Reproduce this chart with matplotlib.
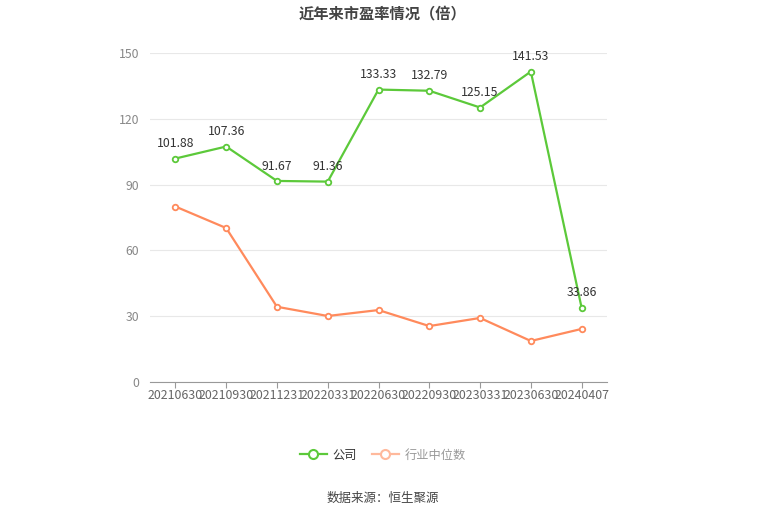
import matplotlib
matplotlib.use("Agg")
import matplotlib.pyplot as plt
from matplotlib.lines import Line2D

plt.rcParams['font.family'] = ['Noto Sans CJK SC', 'DejaVu Sans']

categories = ["20210630", "20210930", "20211231", "20220331", "20220630",
              "20220930", "20230331", "20230630", "20240407"]
company = [101.88, 107.36, 91.67, 91.36, 133.33, 132.79, 125.15, 141.53, 33.86]
industry = [80.0, 70.2, 34.3, 30.1, 32.8, 25.5, 29.2, 18.7, 24.2]
yticks = [0, 30, 60, 90, 120, 150]

green = "#5cc93a"
orange = "#ff8a5c"

fig = plt.figure(figsize=(7.65, 5.17), dpi=100)
ax = fig.add_axes([150/765, 1-382/517, 457/765, 329/517])

x = list(range(len(categories)))
ax.plot(x, company, color=green, lw=1.6, marker='o', ms=4, mfc='white', mec=green, mew=1.3, zorder=3)
ax.plot(x, industry, color=orange, lw=1.6, marker='o', ms=4, mfc='white', mec=orange, mew=1.3, zorder=3)

for xi, v in zip(x, company):
    ax.annotate(f"{v:.2f}", (xi, v), xytext=(0, 6), textcoords='offset points',
                ha='center', va='bottom', fontsize=8.8, color='#333333')

ax.set_xlim(-0.5, len(categories) - 0.5)
ax.set_ylim(0, 150)
ax.set_yticks(yticks)
ax.set_yticklabels([str(t) for t in yticks], fontsize=8.8, color='#888888')
ax.set_xticks(x)
ax.set_xticklabels(categories, fontsize=8.9, color='#666666')
ax.tick_params(axis='y', length=0, pad=8)
ax.tick_params(axis='x', length=4, color='#999999', pad=1)
ax.grid(axis='y', color='#e8e8e8', lw=0.8)
ax.set_axisbelow(True)
for s in ['top', 'right', 'left']:
    ax.spines[s].set_visible(False)
ax.spines['bottom'].set_color('#999999')

fig.text(0.5, 1-13/517, "近年来市盈率情况（倍）", ha='center', va='center',
         fontsize=11, fontweight='bold', color='#444444')

handles = [
    Line2D([0], [0], color=green, lw=1.6, marker='o', ms=6.5, mfc='white', mec=green, mew=1.5),
    Line2D([0], [0], color='#ffb99c', lw=1.6, marker='o', ms=6.5, mfc='white', mec='#ffb99c', mew=1.5),
]
leg = fig.legend(handles, ["公司", "行业中位数"], loc='center', bbox_to_anchor=(383/765, 1-455/517),
                 ncol=2, frameon=False, fontsize=8.8, handlelength=2.2, columnspacing=1.2, handletextpad=0.5)
leg.get_texts()[0].set_color('#333333')
leg.get_texts()[1].set_color('#999999')

fig.text(383/765, 1-498/517, "数据来源：恒生聚源", ha='center', va='center', fontsize=9, color='#444444')

fig.savefig("out.png", dpi=100)
